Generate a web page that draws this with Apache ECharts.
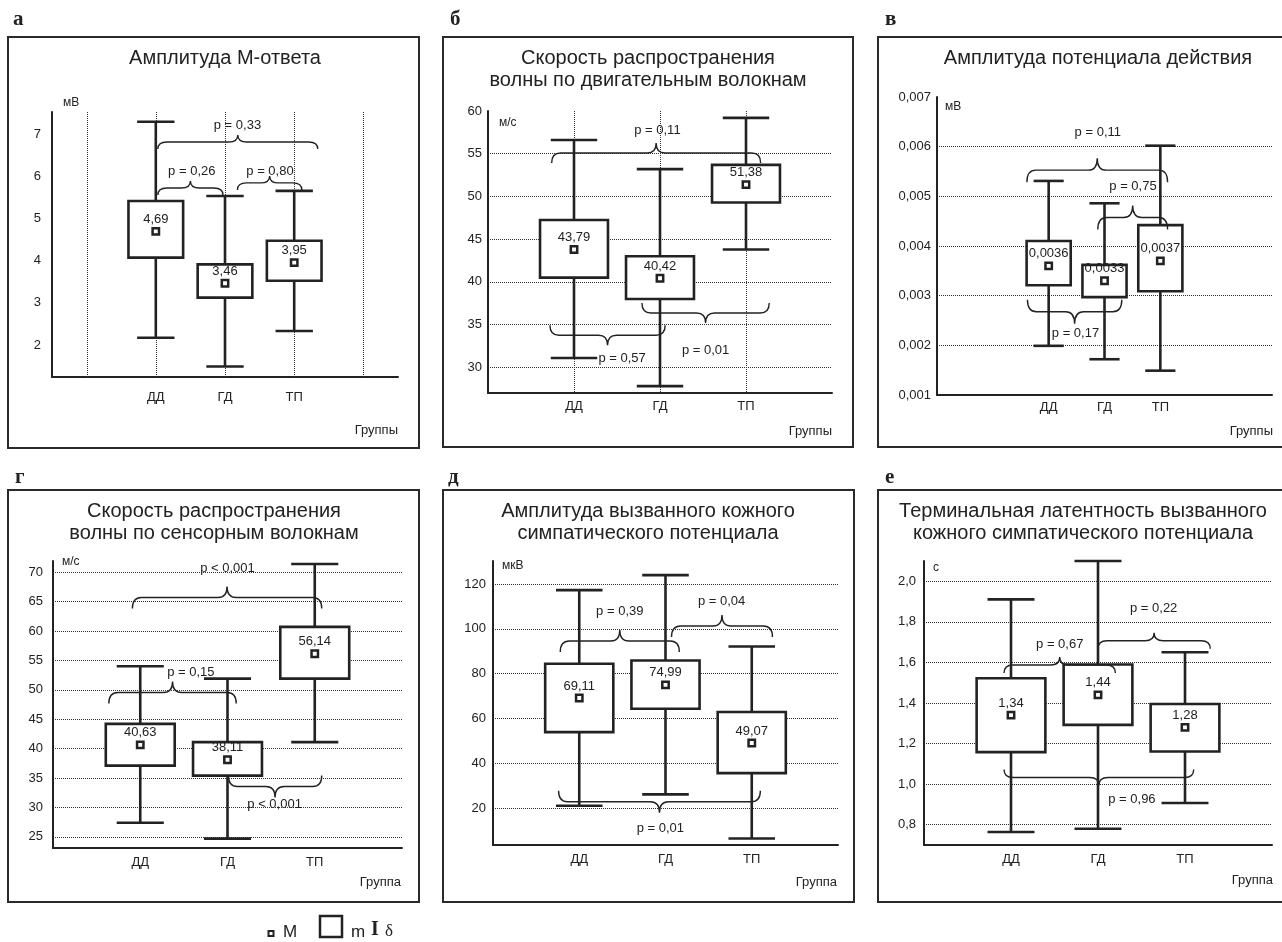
<!DOCTYPE html>
<html><head><meta charset="utf-8">
<script src="https://cdn.jsdelivr.net/npm/echarts@6/dist/echarts.min.js"></script>
<style>html,body{margin:0;padding:0;background:#fff}#c{width:1282px;height:942px}</style>
</head><body><div id="c"></div>
<script>
// ---------------- DATA ----------------
const groups = ['ДД', 'ГД', 'ТП'];

// а — Амплитуда М-ответа, мВ
const aMean = [4.69, 3.46, 3.95];
const aBoxLow = [4.07, 3.12, 3.52];
const aBoxHigh = [5.41, 3.91, 4.47];
const aWhiskerLow = [2.17, 1.49, 2.33];
const aWhiskerHigh = [7.29, 5.53, 5.65];
const aTicks = [2, 3, 4, 5, 6, 7];
// [from, to (group units, ДД = 0), level, direction, text, label x, label y]
const aBraces = [
  [0.03, 2.34, 6.81, 'up', 'p = 0,33', 1.18, 7.21],
  [0.03, 0.97, 5.72, 'up', 'p = 0,26', 0.52, 6.12],
  [1.18, 2.11, 5.84, 'up', 'p = 0,80', 1.65, 6.12]
];

// б — Скорость распространения волны по двигательным волокнам, м/с
const bMean = [43.79, 40.42, 51.38];
const bBoxLow = [40.5, 38.0, 49.3];
const bBoxHigh = [47.25, 43.0, 53.7];
const bWhiskerLow = [31.1, 27.8, 43.8];
const bWhiskerHigh = [56.6, 53.2, 59.2];
const bTicks = [30, 35, 40, 45, 50, 55, 60];
const bBraces = [
  [-0.26, 2.17, 55.08, 'up', 'p = 0,11', 0.97, 57.7],
  [-0.28, 1.06, 33.76, 'down', 'p = 0,57', 0.56, 31.06],
  [0.79, 2.27, 36.37, 'down', 'p = 0,01', 1.53, 32.0]
];

// в — Амплитуда потенциала действия, мВ
const vMean = [0.0036, 0.0033, 0.0037];
const vBoxLow = [0.00321, 0.00297, 0.00309];
const vBoxHigh = [0.0041, 0.00362, 0.00442];
const vWhiskerLow = [0.00199, 0.00172, 0.00149];
const vWhiskerHigh = [0.00531, 0.00486, 0.00602];
const vTicks = [0.001, 0.002, 0.003, 0.004, 0.005, 0.006, 0.007];
const vBraces = [
  [-0.39, 2.13, 0.005527, 'up', 'p = 0,11', 0.88, 0.006286],
  [0.88, 2.13, 0.004575, 'up', 'p = 0,75', 1.51, 0.005191],
  [-0.38, 1.31, 0.002676, 'down', 'p = 0,17', 0.48, 0.002241]
];

// г — Скорость распространения волны по сенсорным волокнам, м/с
const gMean = [40.63, 38.11, 56.14];
const gBoxLow = [37.1, 35.4, 51.9];
const gBoxHigh = [44.2, 41.1, 60.7];
const gWhiskerLow = [27.4, 24.7, 41.1];
const gWhiskerHigh = [54.0, 51.9, 71.4];
const gTicks = [25, 30, 35, 40, 45, 50, 55, 60, 65, 70];
const gBraces = [
  [-0.09, 2.08, 65.7, 'up', 'p < 0,001', 1.0, 70.6],
  [-0.36, 1.10, 49.54, 'up', 'p = 0,15', 0.58, 53.0],
  [1.01, 2.08, 33.55, 'down', 'p < 0,001', 1.54, 30.44]
];

// д — Амплитуда вызванного кожного симпатического потенциала, мкВ
const dMean = [69.11, 74.99, 49.07];
const dBoxLow = [53.9, 64.3, 35.6];
const dBoxHigh = [84.4, 85.9, 62.9];
const dWhiskerLow = [21.0, 26.1, 6.4];
const dWhiskerHigh = [117.3, 124.0, 92.1];
const dTicks = [20, 40, 60, 80, 100, 120];
const dBraces = [
  [-0.22, 1.16, 94.6, 'up', 'p = 0,39', 0.47, 107.6],
  [1.07, 2.24, 101.3, 'up', 'p = 0,04', 1.65, 112.2],
  [-0.24, 2.10, 22.8, 'down', 'p = 0,01', 0.94, 10.9]
];

// е — Терминальная латентность вызванного кожного симпатического потенциала, с
const eMean = [1.34, 1.44, 1.28];
const eBoxLow = [1.158, 1.292, 1.161];
const eBoxHigh = [1.522, 1.59, 1.395];
const eWhiskerLow = [0.764, 0.78, 0.907];
const eWhiskerHigh = [1.911, 2.10, 1.65];
const eTicks = [0.8, 1.0, 1.2, 1.4, 1.6, 1.8, 2.0];
const eBraces = [
  [-0.08, 1.20, 1.587, 'up', 'p = 0,67', 0.56, 1.690],
  [1.00, 2.29, 1.707, 'up', 'p = 0,22', 1.64, 1.866],
  [-0.08, 2.10, 1.033, 'down', 'p = 0,96', 1.39, 0.923]
];

// ---------------- LAYOUT ----------------
const FONT = '"Liberation Sans", Arial, sans-serif';
const INK = '#222';
const panels = [
  { letter: 'а', title: 'Амплитуда М-ответа', titleXY: [225, 58], letterXY: [13, 20], frame: [8, 37, 411, 411],
    grid: { left: 52, top: 112, width: 346, height: 265 }, pad: [1, 1], boundaryGap: true, vlines: 'all',
    yMin: 1.24, yMax: 7.52, step: 1, ticks: aTicks, dec: 0, split: false,
    unit: 'мВ', unitXY: [63, 103], xName: 'Группы', xNameXY: [398, 430], xMargin: 14, yMargin: 11, hook: 7,
    mean: aMean, boxLow: aBoxLow, boxHigh: aBoxHigh, whLow: aWhiskerLow, whHigh: aWhiskerHigh, meanDec: 2, braces: aBraces },
  { letter: 'б', title: 'Скорость распространения\nволны по двигательным волокнам', titleXY: [648, 69], letterXY: [450, 20], frame: [443, 37, 410, 410],
    grid: { left: 488, top: 111, width: 344, height: 282 }, pad: [1, 1], boundaryGap: false, vlines: 'groups',
    yMin: 27, yMax: 60, step: 5, ticks: bTicks, dec: 0, split: true,
    unit: 'м/с', unitXY: [499, 123], xName: 'Группы', xNameXY: [832, 431], xMargin: 7, yMargin: 6, hook: 10,
    mean: bMean, boxLow: bBoxLow, boxHigh: bBoxHigh, whLow: bWhiskerLow, whHigh: bWhiskerHigh, meanDec: 2, braces: bBraces },
  { letter: 'в', title: 'Амплитуда потенциала действия', titleXY: [1098, 58], letterXY: [885, 20], frame: [878, 37, 420, 410],
    grid: { left: 937, top: 97, width: 335, height: 298 }, pad: [2, 2], boundaryGap: false, vlines: 'none',
    yMin: 0.001, yMax: 0.007, step: 0.001, ticks: vTicks, dec: 3, split: true,
    unit: 'мВ', unitXY: [945, 107], xName: 'Группы', xNameXY: [1273, 431], xMargin: 6, yMargin: 6, hook: 12,
    mean: vMean, boxLow: vBoxLow, boxHigh: vBoxHigh, whLow: vWhiskerLow, whHigh: vWhiskerHigh, meanDec: 4, braces: vBraces },
  { letter: 'г', title: 'Скорость распространения\nволны по сенсорным волокнам', titleXY: [214, 522.5], letterXY: [15, 478], frame: [8, 490, 411, 412],
    grid: { left: 53, top: 561, width: 349, height: 287 }, pad: [1, 1], boundaryGap: false, vlines: 'none',
    yMin: 23.1, yMax: 71.9, step: 5, ticks: gTicks, dec: 0, split: true,
    unit: 'м/с', unitXY: [62, 562], xName: 'Группа', xNameXY: [401, 882], xMargin: 8, yMargin: 10, hook: 11,
    mean: gMean, boxLow: gBoxLow, boxHigh: gBoxHigh, whLow: gWhiskerLow, whHigh: gWhiskerHigh, meanDec: 2, braces: gBraces },
  { letter: 'д', title: 'Амплитуда вызванного кожного\nсимпатического потенциала', titleXY: [648, 522.5], letterXY: [448, 478], frame: [443, 490, 411, 412],
    grid: { left: 493, top: 561, width: 345, height: 284 }, pad: [1, 1], boundaryGap: false, vlines: 'none',
    yMin: 3.5, yMax: 130.3, step: 20, ticks: dTicks, dec: 0, split: true,
    unit: 'мкВ', unitXY: [502, 566], xName: 'Группа', xNameXY: [837, 882], xMargin: 8, yMargin: 7, hook: 11,
    mean: dMean, boxLow: dBoxLow, boxHigh: dBoxHigh, whLow: dWhiskerLow, whHigh: dWhiskerHigh, meanDec: 2, braces: dBraces },
  { letter: 'е', title: 'Терминальная латентность вызванного\nкожного симпатического потенциала', titleXY: [1083, 522.5], letterXY: [885, 478], frame: [878, 490, 420, 412],
    grid: { left: 924, top: 561, width: 348, height: 284 }, pad: [1, 1], boundaryGap: false, vlines: 'none',
    yMin: 0.7, yMax: 2.1, step: 0.2, ticks: eTicks, dec: 1, split: true,
    unit: 'с', unitXY: [933, 568], xName: 'Группа', xNameXY: [1273, 880], xMargin: 8, yMargin: 8, hook: 8,
    mean: eMean, boxLow: eBoxLow, boxHigh: eBoxHigh, whLow: eWhiskerLow, whHigh: eWhiskerHigh, meanDec: 2, braces: eBraces }
];

function fmt(v, d) { return Number(v).toFixed(d).replace('.', ','); }
function txt(text, x, y, font, align, valign, extra) {
  return Object.assign({ type: 'text', x: x, y: y, silent: true,
    style: { text: text, font: font, fill: INK, align: align, verticalAlign: valign, textAlign: align, textVerticalAlign: valign } }, extra || {});
}

const grids = [], xAxes = [], yAxes = [], series = [], graphics = [];

panels.forEach((p, k) => {
  const xData = [];
  for (let i = 0; i < p.pad[0]; i++) xData.push('_s' + i);
  groups.forEach(g => xData.push(g));
  for (let i = 0; i < p.pad[1]; i++) xData.push('_e' + i);
  const off = p.pad[0];

  grids.push(Object.assign({ containLabel: false }, p.grid));
  xAxes.push({
    gridIndex: k, type: 'category', data: xData, boundaryGap: p.boundaryGap,
    axisLine: { onZero: false, lineStyle: { color: INK, width: 2 } },
    axisTick: { show: false }, splitLine: { show: false },
    axisLabel: { interval: 0, margin: p.xMargin, fontSize: 13, fontFamily: FONT, color: INK,
      formatter: v => (v.charAt(0) === '_' ? '' : v) }
  });
  yAxes.push({
    gridIndex: k, type: 'value', min: p.yMin, max: p.yMax, minInterval: p.step, maxInterval: p.step,
    axisLine: { show: true, onZero: false, lineStyle: { color: INK, width: 2 } },
    axisTick: { show: false },
    axisLabel: { margin: p.yMargin, fontSize: 13, fontFamily: FONT, color: INK,
      formatter: v => (p.ticks.some(t => Math.abs(t - v) < p.step * 1e-6) ? fmt(v, p.dec) : '') },
    splitLine: { show: p.split, showMinLine: false, showMaxLine: false,
      lineStyle: { type: 'dotted', color: '#333', width: 1 } }
  });

  // vertical dotted lines
  const vl = p.vlines === 'all' ? xData : (p.vlines === 'groups' ? groups : []);
  if (vl.length) {
    series.push({
      type: 'custom', xAxisIndex: k, yAxisIndex: k, z: 1, silent: true,
      data: vl.map(n => [n, p.yMin]),
      renderItem: (params, api) => {
        const x = Math.round(api.coord([api.value(0), p.yMin])[0]) + 0.5;
        const cs = params.coordSys;
        return { type: 'line', shape: { x1: x, y1: cs.y, x2: x, y2: cs.y + cs.height },
          style: { stroke: '#333', lineWidth: 1, lineDash: [1, 1] } };
      }
    });
  }

  // boxes
  series.push({
    type: 'custom', xAxisIndex: k, yAxisIndex: k, z: 3, silent: true,
    data: groups.map((g, i) => [g, p.mean[i], p.boxLow[i], p.boxHigh[i], p.whLow[i], p.whHigh[i]]),
    encode: { x: 0, y: [1, 2, 3, 4, 5] },
    renderItem: (params, api) => {
      const xi = api.value(0);
      const step = api.coord([off + 1, p.yMin])[0] - api.coord([off, p.yMin])[0];
      const m = api.coord([xi, api.value(1)]);
      const yBL = api.coord([xi, api.value(2)])[1];
      const yBH = api.coord([xi, api.value(3)])[1];
      const yWL = api.coord([xi, api.value(4)])[1];
      const yWH = api.coord([xi, api.value(5)])[1];
      const cx = m[0];
      const bw = step * 0.79, cw = step * 0.54;
      const ls = { stroke: INK, lineWidth: 2.6 };
      return { type: 'group', children: [
        { type: 'line', shape: { x1: cx, y1: yWL, x2: cx, y2: yWH }, style: ls },
        { type: 'line', shape: { x1: cx - cw / 2, y1: yWH, x2: cx + cw / 2, y2: yWH }, style: ls },
        { type: 'line', shape: { x1: cx - cw / 2, y1: yWL, x2: cx + cw / 2, y2: yWL }, style: ls },
        { type: 'rect', shape: { x: cx - bw / 2, y: yBH, width: bw, height: yBL - yBH },
          style: { fill: '#fff', stroke: INK, lineWidth: 2.6 } },
        { type: 'rect', shape: { x: cx - 3.2, y: m[1] - 3.2, width: 6.4, height: 6.4 },
          style: { fill: '#fff', stroke: INK, lineWidth: 2.5 } },
        txt(fmt(p.mean[params.dataIndex], p.meanDec), cx, m[1] - 12, '13px ' + FONT, 'center', 'middle')
      ] };
    }
  });

  // braces with p-values
  series.push({
    type: 'custom', xAxisIndex: k, yAxisIndex: k, z: 4, silent: true,
    data: p.braces.map(b => [groups[0], b[2]]),
    renderItem: (params, api) => {
      const b = p.braces[params.dataIndex];
      const c0 = api.coord([off, b[2]]);
      const step = api.coord([off + 1, b[2]])[0] - c0[0];
      const x1 = c0[0] + b[0] * step, x2 = c0[0] + b[1] * step, y = c0[1];
      const h = p.hook * (b[3] === 'up' ? 1 : -1);
      const r = 9, xm = (x1 + x2) / 2;
      const d = 'M' + x1 + ',' + (y + h) + ' Q' + x1 + ',' + y + ' ' + (x1 + r) + ',' + y +
        ' L' + (xm - r) + ',' + y + ' Q' + xm + ',' + y + ' ' + xm + ',' + (y - h) +
        ' Q' + xm + ',' + y + ' ' + (xm + r) + ',' + y +
        ' L' + (x2 - r) + ',' + y + ' Q' + x2 + ',' + y + ' ' + x2 + ',' + (y + h);
      const ly = api.coord([off, b[6]])[1];
      return { type: 'group', children: [
        { type: 'path', shape: { pathData: d }, style: { fill: 'none', stroke: INK, lineWidth: 1.4 } },
        txt(b[4], c0[0] + b[5] * step, ly, '13px ' + FONT, 'center', 'middle')
      ] };
    }
  });

  // frame, letter, title, unit, axis caption
  graphics.push({ type: 'rect', silent: true, shape: { x: p.frame[0], y: p.frame[1], width: p.frame[2], height: p.frame[3] },
    style: { fill: 'none', stroke: '#2a2a2a', lineWidth: 2 } });
  graphics.push(txt(p.letter, p.letterXY[0], p.letterXY[1], 'bold 21px "Liberation Serif", serif', 'left', 'middle'));
  graphics.push(txt(p.title, p.titleXY[0], p.titleXY[1], '20px ' + FONT, 'center', 'middle', {}));
  graphics[graphics.length - 1].style.lineHeight = 22;
  graphics.push(txt(p.unit, p.unitXY[0], p.unitXY[1], '12px ' + FONT, 'left', 'middle'));
  graphics.push(txt(p.xName, p.xNameXY[0], p.xNameXY[1], '13px ' + FONT, 'right', 'middle'));
});

// legend: M (mean), m (error box), δ (whiskers)
graphics.push({ type: 'rect', silent: true, shape: { x: 268.5, y: 931, width: 5, height: 5 }, style: { fill: '#fff', stroke: INK, lineWidth: 2 } });
graphics.push(txt('M', 283, 932, '17px ' + FONT, 'left', 'middle'));
graphics.push({ type: 'rect', silent: true, shape: { x: 320, y: 916, width: 22, height: 21 }, style: { fill: '#fff', stroke: INK, lineWidth: 2.5 } });
graphics.push(txt('m', 351, 932, '17px ' + FONT, 'left', 'middle'));
graphics.push(txt('I', 371, 930, 'bold 20px "Liberation Serif", serif', 'left', 'middle'));
graphics.push(txt('δ', 385, 932, '17px "Liberation Serif", serif', 'left', 'middle'));

const chart = echarts.init(document.getElementById('c'), null, { renderer: 'canvas' });
chart.setOption({
  animation: false,
  backgroundColor: '#fff',
  grid: grids, xAxis: xAxes, yAxis: yAxes, series: series,
  graphic: { elements: graphics }
});
</script>
</body></html>
